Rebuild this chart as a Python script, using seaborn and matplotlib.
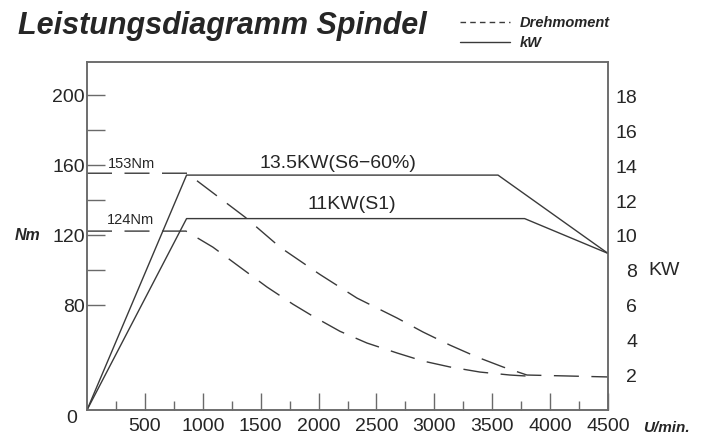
import pandas as pd
import seaborn as sns
import matplotlib.pyplot as plt
from matplotlib.lines import Line2D
from matplotlib.ticker import FixedLocator

sns.set_style("white")
plt.rcParams['font.family'] = ['Liberation Sans', 'DejaVu Sans']

# power curves (kW over U/min)
rpm_s6 = [0, 860, 3550, 4500]
kw_s6 = [0, 13.5, 13.5, 9.0]
rpm_s1 = [0, 860, 3780, 4500]
kw_s1 = [0, 11.0, 11.0, 9.0]

# torque curves (Nm over U/min)
rpm_t_s6 = [0, 864, 1365, 1667, 2012, 2332, 2678, 2902, 3135, 3368, 3593, 3800, 4500]
nm_t_s6 = [155.4, 155.4, 130.3, 113.1, 97.5, 84.0, 72.6, 64.6, 57.1, 50.3, 44.6, 40.0, 38.9]
rpm_t_s1 = [0, 855, 1088, 1321, 1555, 1779, 1952, 2185, 2418, 2678, 2902, 3135, 3394, 3653, 3800]
nm_t_s1 = [122.3, 122.3, 113.1, 101.7, 90.3, 80.5, 73.6, 65.0, 58.3, 52.6, 48.0, 44.6, 41.7, 40.0, 39.4]

x_ticks = [500, 1000, 1500, 2000, 2500, 3000, 3500, 4000, 4500]
nm_ticks = [80, 120, 160, 200]
nm_minor = [100, 140, 180]
kw_ticks = [2, 4, 6, 8, 10, 12, 14, 16, 18]

line_col = '#3a3a3a'
axis_col = '#6a6a6a'
dash = (0, (18, 9))
num_size = 14

fig = plt.figure(figsize=(7.1, 4.37), dpi=100)
ax = fig.add_axes([87 / 710, 27 / 437, 521 / 710, 348 / 437])
ax2 = ax.twinx()

# torque on the left axis
for r, t in [(rpm_t_s6, nm_t_s6), (rpm_t_s1, nm_t_s1)]:
    sns.lineplot(data=pd.DataFrame({'rpm': r, 'nm': t}), x='rpm', y='nm', ax=ax,
                 color=line_col, lw=1.0, linestyle=dash, legend=False)

# power on the right axis
for r, p in [(rpm_s6, kw_s6), (rpm_s1, kw_s1)]:
    sns.lineplot(data=pd.DataFrame({'rpm': r, 'kw': p}), x='rpm', y='kw', ax=ax2,
                 color=line_col, lw=1.0, legend=False)

ax.set_xlim(0, 4500)
ax.set_ylim(20, 219)
ax2.set_ylim(0, 20)
for a in (ax, ax2):
    a.set_xlabel('')
    a.set_ylabel('')
    for s in a.spines.values():
        s.set_color(axis_col)
        s.set_linewidth(1.1)

ax.xaxis.set_major_locator(FixedLocator(x_ticks))
ax.xaxis.set_minor_locator(FixedLocator([250 + 500 * i for i in range(9)]))
ax.set_xticklabels([str(v) for v in x_ticks])
ax.yaxis.set_major_locator(FixedLocator(nm_ticks))
ax.yaxis.set_minor_locator(FixedLocator(nm_minor))
ax.set_yticklabels([str(v) for v in nm_ticks])

ax.tick_params(axis='x', which='major', direction='in', length=12, width=1.0,
               color=axis_col, labelsize=num_size, pad=6, bottom=True)
ax.tick_params(axis='x', which='minor', direction='in', length=6.5, width=1.0,
               color=axis_col, bottom=True)
ax.tick_params(axis='y', which='both', direction='in', length=13, width=1.0,
               color=axis_col, labelsize=num_size, pad=1.5, left=True)

ax2.set_yticks(kw_ticks)
ax2.set_yticklabels([str(v) for v in kw_ticks])
ax2.tick_params(axis='y', length=0, labelsize=num_size, pad=21)
for lab in ax2.get_yticklabels():
    lab.set_horizontalalignment('right')

# labels on the curves
ax2.text(2168, 13.9, '13.5KW(S6\u221260%)', ha='center', va='baseline', fontsize=num_size)
ax2.text(2289, 11.55, '11KW(S1)', ha='center', va='baseline', fontsize=num_size)
ax.text(181, 158.3, '153Nm', ha='left', va='baseline', fontsize=10.5)
ax.text(175, 126.3, '124Nm', ha='left', va='baseline', fontsize=10.5)

# axis names
bi = dict(family=['Liberation Sans', 'DejaVu Sans'], weight='bold', style='italic')
ax.annotate('Nm', xy=(0, 120), xycoords=('axes fraction', 'data'),
            xytext=(-52, 0), textcoords='offset points', ha='left', va='center',
            fontsize=11.5, **bi)
ax.annotate('0', xy=(0, 20), xycoords='data', xytext=(-11, -6),
            textcoords='offset points', ha='center', va='center', fontsize=num_size)
ax2.annotate('KW', xy=(1, 8), xycoords=('axes fraction', 'data'),
             xytext=(29, 0), textcoords='offset points', ha='left', va='center',
             fontsize=num_size)
ax.annotate('U/min.', xy=(1, 0), xycoords='axes fraction', xytext=(25, -13),
            textcoords='offset points', ha='left', va='center', fontsize=11, **bi)

fig.text(18 / 710, 1 - 34 / 437, 'Leistungsdiagramm Spindel', ha='left',
         va='baseline', fontsize=22, **bi)

handles = [Line2D([], [], color=line_col, lw=1.0, linestyle=(0, (4, 3))),
           Line2D([], [], color=line_col, lw=1.0)]
fig.legend(handles, ['Drehmoment', 'kW'], loc='upper left',
           bbox_to_anchor=(460 / 710, 1 - 16 / 437), frameon=False,
           prop=dict(size=10.5, **bi), handlelength=3.4, handletextpad=0.7,
           labelspacing=0.4, borderpad=0, borderaxespad=0)

plt.savefig('out.png', dpi=100)
